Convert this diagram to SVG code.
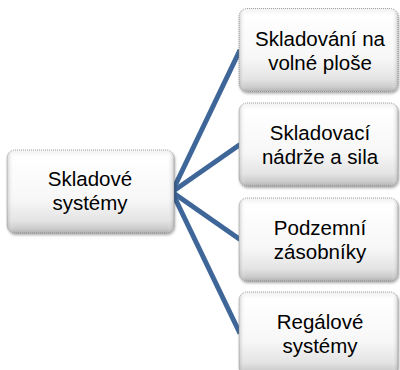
<svg xmlns="http://www.w3.org/2000/svg" width="400" height="370" viewBox="0 0 400 370">
  <defs>
    <linearGradient id="gv" x1="0" y1="0" x2="0" y2="1">
      <stop offset="0" stop-color="#f0f0f0"/>
      <stop offset="0.08" stop-color="#ffffff"/>
      <stop offset="0.6" stop-color="#f7f7f7"/>
      <stop offset="0.85" stop-color="#e4e4e4"/>
      <stop offset="0.95" stop-color="#cbcbcb"/>
      <stop offset="1" stop-color="#b0b0b0"/>
    </linearGradient>
    <linearGradient id="gh" x1="0" y1="0" x2="1" y2="0">
      <stop offset="0" stop-color="#9a9a9a" stop-opacity="0.45"/>
      <stop offset="0.04" stop-color="#ffffff" stop-opacity="0"/>
      <stop offset="0.96" stop-color="#ffffff" stop-opacity="0"/>
      <stop offset="1" stop-color="#9a9a9a" stop-opacity="0.45"/>
    </linearGradient>
    <filter id="sh" x="-10%" y="-10%" width="120%" height="130%">
      <feGaussianBlur in="SourceAlpha" stdDeviation="1.5"/>
      <feOffset dx="0.5" dy="1.5" result="b"/>
      <feComponentTransfer><feFuncA type="linear" slope="0.35"/></feComponentTransfer>
      <feMerge><feMergeNode/><feMergeNode in="SourceGraphic"/></feMerge>
    </filter>
  </defs>
  <style>
    .box { fill: url(#gv); filter: url(#sh); }
    .bev { fill: url(#gh); }
    .bd { fill: none; stroke: #8c8c8c; stroke-width: 0.8; stroke-dasharray: 1 1; }
    .lbl { font-family: "Liberation Sans", Arial, sans-serif; font-size: 20.5px; fill: #000; text-anchor: middle; }
    .conn { stroke: #3f6698; stroke-width: 5; fill: none; stroke-linecap: butt; }
  </style>

  <g id="connectors">
    <line class="conn" x1="172" y1="192" x2="240" y2="50"/>
    <line class="conn" x1="172" y1="192" x2="240" y2="144.5"/>
    <line class="conn" x1="172" y1="192" x2="240" y2="239.5"/>
    <line class="conn" x1="172" y1="192" x2="240" y2="333.5"/>
  </g>

  <g id="node-root">
    <rect class="box" x="7" y="150" width="167" height="83" rx="8"/>
    <rect class="bev" x="7" y="150" width="167" height="83" rx="8"/>
    <rect class="bd" x="7" y="150" width="167" height="83" rx="8"/>
    <text class="lbl" x="90" y="186">Skladové<tspan x="90" dy="24">systémy</tspan></text>
  </g>

  <g id="node-1">
    <rect class="box" x="239" y="8.5" width="159" height="83" rx="8"/>
    <rect class="bev" x="239" y="8.5" width="159" height="83" rx="8"/>
    <rect class="bd" x="239" y="8.5" width="159" height="83" rx="8"/>
    <text class="lbl" x="320" y="46">Skladování na<tspan x="320" dy="24">volné ploše</tspan></text>
  </g>

  <g id="node-2">
    <rect class="box" x="239" y="103" width="159" height="83" rx="8"/>
    <rect class="bev" x="239" y="103" width="159" height="83" rx="8"/>
    <rect class="bd" x="239" y="103" width="159" height="83" rx="8"/>
    <text class="lbl" x="320" y="140">Skladovací<tspan x="320" dy="24">nádrže a sila</tspan></text>
  </g>

  <g id="node-3">
    <rect class="box" x="239" y="198" width="159" height="83" rx="8"/>
    <rect class="bev" x="239" y="198" width="159" height="83" rx="8"/>
    <rect class="bd" x="239" y="198" width="159" height="83" rx="8"/>
    <text class="lbl" x="320" y="235">Podzemní<tspan x="320" dy="24">zásobníky</tspan></text>
  </g>

  <g id="node-4">
    <rect class="box" x="239" y="292" width="159" height="83" rx="8"/>
    <rect class="bev" x="239" y="292" width="159" height="83" rx="8"/>
    <rect class="bd" x="239" y="292" width="159" height="83" rx="8"/>
    <text class="lbl" x="320" y="329">Regálové<tspan x="320" dy="24">systémy</tspan></text>
  </g>
</svg>
